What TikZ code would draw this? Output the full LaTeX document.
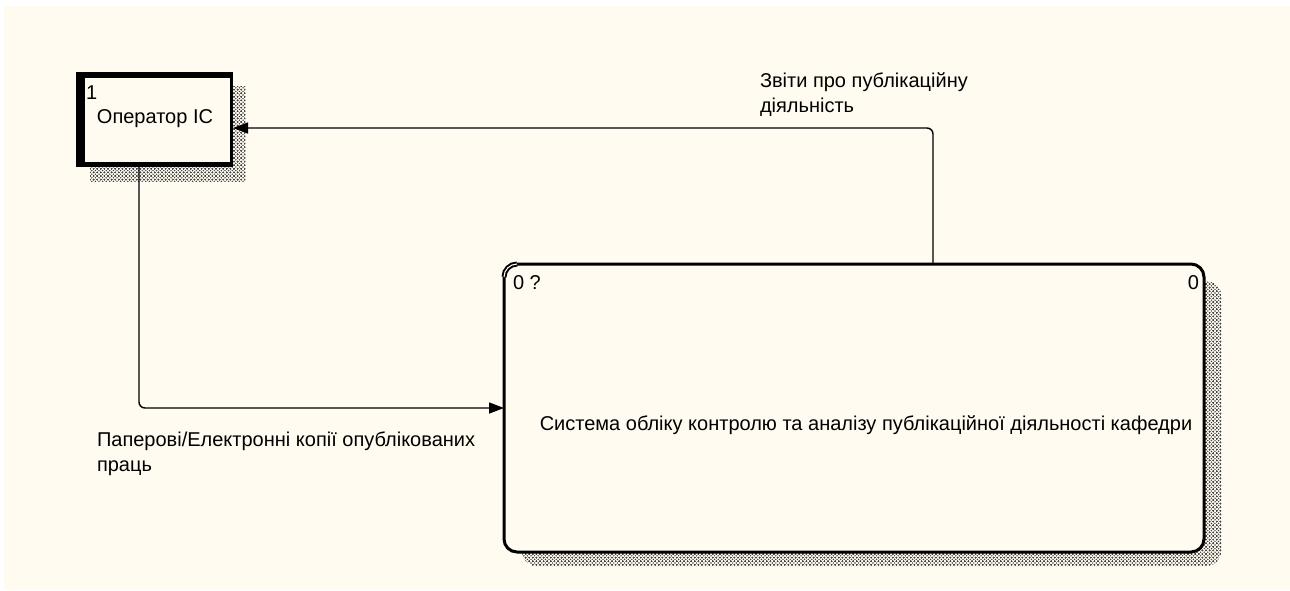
\documentclass[tikz,border=0pt]{standalone}
\usepackage{fontspec}
\setmainfont{Liberation Sans}
\usetikzlibrary{arrows.meta,patterns,calc}
\definecolor{paper}{RGB}{255,251,240}
% dotted fill used for the drop shadows
\pgfdeclarepatternformonly{shadowdots}{\pgfpoint{-1pt}{-1pt}}{\pgfpoint{4.6pt}{4.6pt}}{\pgfpoint{3.6pt}{3.6pt}}{%
  \pgfpathcircle{\pgfpoint{0pt}{0pt}}{0.8pt}%
  \pgfpathcircle{\pgfpoint{1.8pt}{1.8pt}}{0.8pt}%
  \pgfpathcircle{\pgfpoint{3.6pt}{3.6pt}}{0.8pt}%
  \pgfpathcircle{\pgfpoint{3.6pt}{0pt}}{0.8pt}%
  \pgfpathcircle{\pgfpoint{0pt}{3.6pt}}{0.8pt}%
  \pgfusepath{fill}}
\begin{document}
\begin{tikzpicture}[x=1pt,y=-1pt,
  lbl/.style={inner sep=0pt, outer sep=0pt, font=\fontsize{20}{25}\selectfont},
  flow/.style={line width=1.4pt, rounded corners=6pt, -{Triangle[length=15pt,width=11pt]}},
  hatch/.style={pattern=shadowdots, pattern color=black!75},
]
\useasboundingbox (0,0) rectangle (1290,590);
\fill[white] (0,0) rectangle (1290,590);
\fill[paper] (4,6) rectangle (1290,590);

% drop shadows
\fill[hatch] (90,86) rectangle (245,181);
\fill[hatch, rounded corners=15pt] (522,281) rectangle (1221,566);

% external entity: heavy frame with a light inner face
\node[fill=black, minimum width=157pt, minimum height=95pt, inner sep=0pt, outer sep=0pt] (op) at (154.5,119.5) {};
\fill[paper] ($(op.north west)+(9,6)$) rectangle ($(op.south east)+(-3,-5)$);
\node[lbl, anchor=base west] (opnum) at ($(op.north west)+(10,27)$) {1};
\node[lbl, anchor=base] (opname) at (155,123) {Оператор ІС};

% process box
\node[draw, line width=3pt, rounded corners=13pt, fill=paper, minimum width=700pt, minimum height=288pt, inner sep=0pt, outer sep=0pt] (sys) at (854,408) {};
% marked corner
\draw[line width=5pt] ($(sys.north west)+(0,13)$) arc[start angle=180, end angle=270, radius=13];
\draw[paper, line width=1.1pt] ($(sys.north west)+(0,13)$) arc[start angle=180, end angle=270, radius=13];
\node[lbl, anchor=base west] (sysid) at (513,289) {0 ?};
\node[lbl, anchor=base east] (sysnum) at (1199,289) {0};
\node[lbl, anchor=base] (sysname) at (866,430) {Система обліку контролю та аналізу публікаційної діяльності кафедри};

% data flows
\draw[flow] ($(sys.north west)+(429,0)$) |- ($(op.east)+(0,8.5)$);
\draw[flow] ($(op.south west)+(63,0)$) |- (sys.west);

% flow labels
\node[lbl, align=left, anchor=north west] (outlbl) at (760,73) {Звіти про публікаційну\\діяльність};
\node[lbl, align=left, anchor=north west] (inlbl) at (97,432) {Паперові/Електронні копії опублікованих\\праць};
\end{tikzpicture}
\end{document}
